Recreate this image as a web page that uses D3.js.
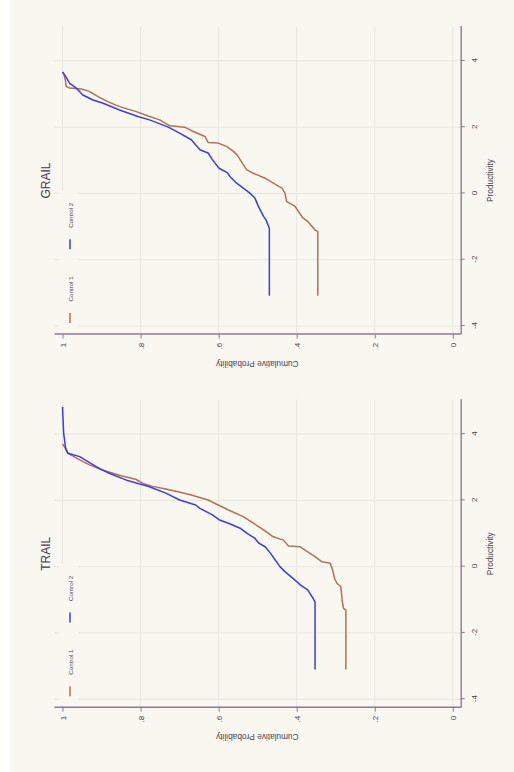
<!DOCTYPE html>
<html>
<head>
<meta charset="utf-8">
<script src="https://cdn.jsdelivr.net/npm/d3@7"></script>
<style>
  html, body { margin: 0; padding: 0; background: #f8f7f0; }
  svg { display: block; font-family: "Liberation Sans", Arial, sans-serif; }
</style>
</head>
<body>
<div id="chart"></div>
<script>
// values: [productivity, cumulative probability]
const productivityTicks = [-4, -2, 0, 2, 4];
const probabilityTicks = [0, 0.2, 0.4, 0.6, 0.8, 1];
const probabilityLabels = ["0", ".2", ".4", ".6", ".8", "1"];
const seriesNames = ["Control 1", "Control 2"];
const panelTitles = ["TRAIL", "GRAIL"];

const trailControl1 = [
  [-3.10, 0.274], [-1.31, 0.274], [-1.26, 0.280], [-1.06, 0.283], [-0.60, 0.287], [-0.50, 0.297],
  [-0.35, 0.303], [-0.10, 0.308], [0.10, 0.314], [0.15, 0.336], [0.30, 0.353], [0.40, 0.366],
  [0.60, 0.391], [0.62, 0.421], [0.80, 0.434], [0.90, 0.460], [1.11, 0.485], [1.31, 0.511],
  [1.51, 0.537], [1.71, 0.575], [1.86, 0.601], [2.01, 0.627], [2.16, 0.670], [2.26, 0.704],
  [2.36, 0.742], [2.43, 0.772], [2.51, 0.794], [2.63, 0.811], [2.76, 0.854], [2.91, 0.896],
  [3.07, 0.931], [3.22, 0.956], [3.42, 0.986], [3.62, 0.995], [3.70, 1.000],
];
const trailControl2 = [
  [-3.10, 0.353], [-1.06, 0.353], [-0.90, 0.361], [-0.70, 0.372], [-0.55, 0.391], [-0.45, 0.400],
  [-0.30, 0.415], [-0.15, 0.430], [0.00, 0.443], [0.20, 0.455], [0.40, 0.467], [0.60, 0.481],
  [0.70, 0.496], [0.85, 0.507], [1.01, 0.528], [1.16, 0.545], [1.31, 0.575], [1.41, 0.598],
  [1.56, 0.616], [1.76, 0.648], [1.86, 0.659], [2.01, 0.700], [2.21, 0.734], [2.41, 0.777],
  [2.61, 0.836], [2.81, 0.879], [2.96, 0.905], [3.17, 0.935], [3.32, 0.956], [3.42, 0.986],
  [3.57, 0.992], [4.02, 0.997], [4.82, 1.000],
];
const grailControl1 = [
  [-3.09, 0.346], [-1.15, 0.346], [-1.10, 0.353], [-0.84, 0.372], [-0.74, 0.384], [-0.59, 0.393],
  [-0.39, 0.404], [-0.24, 0.426], [0.01, 0.430], [0.16, 0.438], [0.31, 0.460], [0.46, 0.481],
  [0.61, 0.511], [0.71, 0.528], [0.91, 0.539], [1.12, 0.550], [1.27, 0.562], [1.42, 0.580],
  [1.52, 0.601], [1.54, 0.627], [1.72, 0.635], [1.87, 0.665], [2.00, 0.687], [2.04, 0.725],
  [2.22, 0.751], [2.32, 0.777], [2.47, 0.811], [2.62, 0.854], [2.77, 0.884], [2.92, 0.909],
  [3.08, 0.931], [3.15, 0.952], [3.18, 0.982], [3.23, 0.991], [3.38, 0.992], [3.63, 0.997],
  [3.66, 1.000],
];
const grailControl2 = [
  [-3.09, 0.470], [-1.05, 0.470], [-0.79, 0.479], [-0.69, 0.485], [-0.39, 0.498], [-0.14, 0.507],
  [0.01, 0.520], [0.16, 0.537], [0.31, 0.554], [0.51, 0.571], [0.63, 0.578], [0.76, 0.599],
  [1.02, 0.616], [1.22, 0.627], [1.32, 0.648], [1.62, 0.670], [1.82, 0.700], [2.00, 0.729],
  [2.22, 0.777], [2.32, 0.807], [2.52, 0.854], [2.72, 0.896], [2.82, 0.922], [2.97, 0.948],
  [3.18, 0.965], [3.33, 0.982], [3.53, 0.992], [3.66, 1.000],
];

const colors = ["#b5714f", "#3b3bf5"];
const bg = "#f8f7f0";
const axisColor = "#8b7b93";
const textColor = "#4a3f52";
const gridColor = "#e5e4dc";

// the graph is drawn landscape (772 x 514) and turned a quarter left onto the page
const pageW = 514;
const pageH = 772;
const plotTop = 54;
const plotBottom = 460.7;
const plotWidth = 308;
const panelLefts = [64.3, 437.5];
const panelSeries = [[trailControl1, trailControl2], [grailControl1, grailControl2]];

const svg = d3.select("#chart").append("svg").attr("width", pageW).attr("height", pageH);
svg.append("rect").attr("width", pageW).attr("height", pageH).attr("fill", bg);
svg.append("rect").attr("width", 10).attr("height", pageH).attr("fill", "#ffffff");

const page = svg.append("g").attr("transform", `translate(0,${pageH}) rotate(-90)`);

const y = d3.scaleLinear().domain([-0.0202, 1.0218]).range([plotBottom, plotTop]);

panelTitles.forEach((title, p) => {
  const left = panelLefts[p];
  const x = d3.scaleLinear().domain([-4.2565, 5.038]).range([left, left + plotWidth]);
  const g = page.append("g");

  g.append("g")
    .selectAll("line")
    .data(productivityTicks)
    .enter()
    .append("line")
    .attr("x1", (d) => x(d))
    .attr("x2", (d) => x(d))
    .attr("y1", plotTop)
    .attr("y2", plotBottom)
    .attr("stroke", gridColor)
    .attr("stroke-width", 0.9);

  g.append("g")
    .selectAll("line")
    .data(probabilityTicks)
    .enter()
    .append("line")
    .attr("x1", left)
    .attr("x2", left + plotWidth)
    .attr("y1", (d) => y(d))
    .attr("y2", (d) => y(d))
    .attr("stroke", gridColor)
    .attr("stroke-width", 0.9);

  // legend sits inside the plot and hides the grid behind it
  const legend = g.append("g");
  legend.append("rect").attr("x", left + 2.5).attr("y", 59).attr("width", 141).attr("height", 19).attr("fill", bg);
  const keyX = [11.5, 85.2];
  seriesNames.forEach((name, i) => {
    legend.append("line")
      .attr("x1", left + keyX[i])
      .attr("x2", left + keyX[i] + 10)
      .attr("y1", 70)
      .attr("y2", 70)
      .attr("stroke", colors[i])
      .attr("stroke-width", 1.5);
    legend.append("text")
      .attr("x", left + keyX[i] + 21.5)
      .attr("y", 73)
      .attr("font-size", 6.2)
      .attr("fill", textColor)
      .text(name);
  });

  const line = d3.line().x((d) => x(d[0])).y((d) => y(d[1]));
  panelSeries[p].forEach((data, i) => {
    g.append("path")
      .attr("d", line(data))
      .attr("fill", "none")
      .attr("stroke", colors[i])
      .attr("stroke-width", 1.5)
      .attr("stroke-linejoin", "round");
  });

  const xAxis = g.append("g")
    .attr("transform", `translate(0,${plotBottom})`)
    .call(d3.axisBottom(x).tickValues(productivityTicks).tickSize(4).tickSizeOuter(0).tickPadding(7).tickFormat(d3.format("d")));
  const yAxis = g.append("g")
    .attr("transform", `translate(${left},0)`)
    .call(d3.axisLeft(y).tickValues(probabilityTicks).tickSize(4).tickSizeOuter(0).tickPadding(4.2).tickFormat((d, i) => probabilityLabels[i]));
  [xAxis, yAxis].forEach((axis) => {
    axis.select(".domain").attr("stroke", axisColor).attr("stroke-width", 1.4);
    axis.selectAll(".tick line").attr("stroke", axisColor).attr("stroke-width", 1);
    axis.selectAll(".tick text").attr("fill", textColor).attr("font-size", 8).attr("font-family", "Liberation Sans, Arial, sans-serif");
  });
  xAxis.selectAll(".tick text").text((d) => (d < 0 ? "-" + Math.abs(d) : d));

  g.append("text")
    .attr("x", left + plotWidth / 2)
    .attr("y", 493)
    .attr("text-anchor", "middle")
    .attr("font-size", 8.3)
    .attr("fill", textColor)
    .text("Productivity");

  const midY = (plotTop + plotBottom) / 2;
  g.append("text")
    .attr("transform", `translate(${left - 26.5},${midY}) rotate(-90)`)
    .attr("text-anchor", "middle")
    .attr("font-size", 8.3)
    .attr("fill", textColor)
    .text("Cumulative Probability");

  g.append("text")
    .attr("x", left + plotWidth / 2)
    .attr("y", 49.5)
    .attr("text-anchor", "middle")
    .attr("font-size", 12)
    .attr("fill", "#43394b")
    .text(title);
});
</script>
</body>
</html>
